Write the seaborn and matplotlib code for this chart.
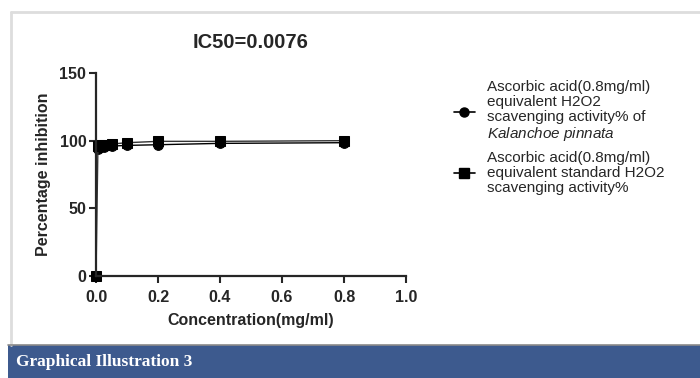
import matplotlib
matplotlib.use("Agg")
import matplotlib.pyplot as plt
import seaborn as sns
import pandas as pd
from matplotlib.patches import Rectangle
from matplotlib.lines import Line2D

# data
conc_sample = [0.00625, 0.0125, 0.025, 0.05, 0.1, 0.2, 0.4, 0.8]
inhib_sample = [94.0, 95.0, 95.5, 96.0, 96.5, 97.0, 98.0, 98.5]
conc_standard = [0.0, 0.00625, 0.0125, 0.025, 0.05, 0.1, 0.2, 0.4, 0.8]
inhib_standard = [0.0, 96.0, 96.5, 97.0, 97.5, 98.5, 99.5, 99.5, 100.0]

label_sample = ("Ascorbic acid(0.8mg/ml)\nequivalent H2O2\nscavenging activity% of\n"
                r"$\it{Kalanchoe\ pinnata}$")
label_standard = ("Ascorbic acid(0.8mg/ml)\nequivalent standard H2O2\n"
                  "scavenging activity%")
x_ticks = [0.0, 0.2, 0.4, 0.6, 0.8, 1.0]
y_ticks = [0, 50, 100, 150]

sns.set_style("ticks")
plt.rcParams["font.family"] = ["Liberation Sans", "DejaVu Sans"]
plt.rcParams["mathtext.fontset"] = "custom"
plt.rcParams["mathtext.it"] = "Liberation Sans:italic"
plt.rcParams["mathtext.rm"] = "Liberation Sans"

fig = plt.figure(figsize=(7, 3.78), dpi=100)
ax = fig.add_axes([96 / 700, 1 - 276 / 378, 310 / 700, 203 / 378])

df_s = pd.DataFrame({"x": conc_sample, "y": inhib_sample})
df_t = pd.DataFrame({"x": conc_standard, "y": inhib_standard})
sns.lineplot(data=df_s, x="x", y="y", ax=ax, color="black", linewidth=1,
             marker="o", markersize=7, markeredgecolor="black", clip_on=False)
sns.lineplot(data=df_t, x="x", y="y", ax=ax, color="#333333", linewidth=1,
             marker="s", markersize=6.5, markeredgecolor="black",
             markerfacecolor="black", clip_on=False)

ax.set_xlim(0, 1.0)
ax.set_ylim(0, 150)
ax.set_xticks(x_ticks)
ax.set_yticks(y_ticks)
ax.set_xticklabels([f"{v:.1f}" for v in x_ticks], fontsize=11.5, fontweight="bold")
ax.set_yticklabels([str(v) for v in y_ticks], fontsize=11.5, fontweight="bold")
ax.tick_params(axis="x", width=1.5, length=5, pad=5)
ax.tick_params(axis="y", width=1.5, length=5, pad=2)
for s in ["left", "bottom"]:
    ax.spines[s].set_linewidth(1.6)
sns.despine(ax=ax)
ax.set_xlabel("Concentration(mg/ml)", fontsize=11.5, fontweight="bold", labelpad=6)
ax.set_ylabel("Percentage inhibition", fontsize=11.5, fontweight="bold", labelpad=6)
ax.set_title("IC50=0.0076", fontsize=14.5, fontweight="bold", pad=18, x=0.5)

handles = [
    Line2D([], [], color="black", lw=1.2, marker="o", markersize=6.5),
    Line2D([], [], color="black", lw=1.2, marker="s", markersize=6.5),
]
leg = fig.legend(handles, [label_sample, label_standard], loc="upper left",
                 bbox_to_anchor=(440 / 700, 1 - 66 / 378), frameon=False,
                 fontsize=11, handlelength=1.4, handletextpad=0.75,
                 labelspacing=0.5)
for t in leg.get_texts():
    t.set_linespacing(1.1)

# page frame and caption banner
fig.add_artist(Line2D([11 / 700, 1], [1 - 12 / 378] * 2, color="#dddddd", lw=2))
fig.add_artist(Line2D([11 / 700] * 2, [1 - 12 / 378, 33 / 378], color="#dddddd", lw=2))
fig.patches.append(Rectangle((8 / 700, 0), 1, 33 / 378, transform=fig.transFigure,
                             facecolor="#3d5a8e", edgecolor="none"))
fig.add_artist(Line2D([8 / 700, 1], [33.5 / 378] * 2, color="#8a8a8a", lw=1.2))
fig.text(16 / 700, 16 / 378, "Graphical Illustration 3", color="white",
         fontsize=12.5, fontweight="bold", family="Liberation Serif", va="center")

fig.savefig("out.png", dpi=100)
